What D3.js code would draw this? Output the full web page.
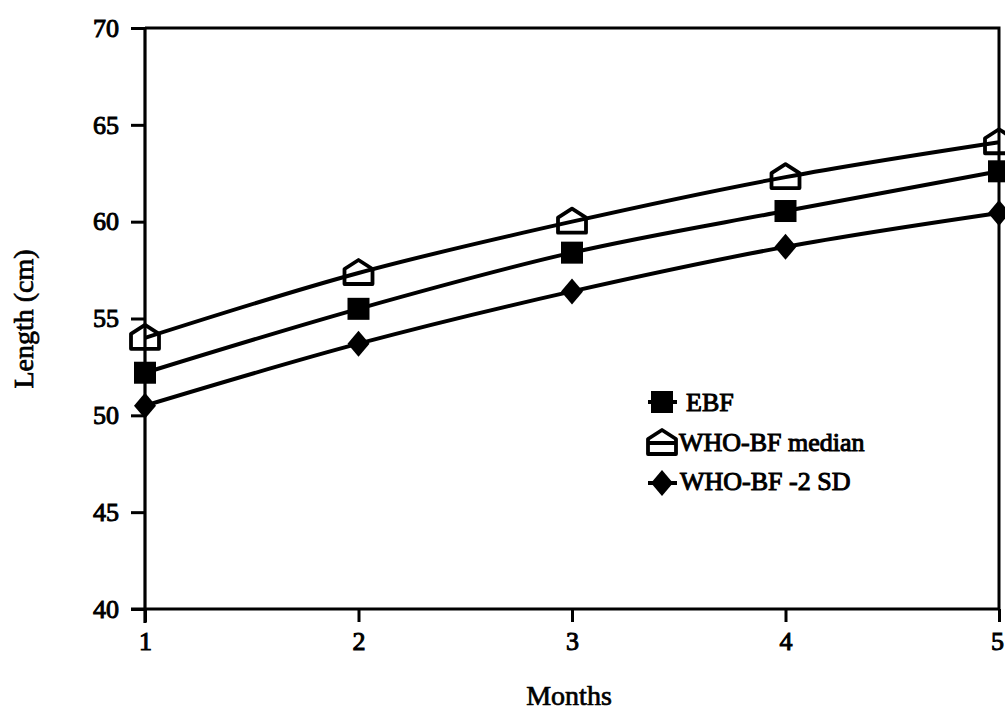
<!DOCTYPE html>
<html>
<head>
<meta charset="utf-8">
<script src="https://cdn.jsdelivr.net/npm/d3@7"></script>
<style>
  html, body { margin: 0; padding: 0; background: #fff; }
  svg { display: block; }
  text { font-family: "Liberation Serif", "Times New Roman", serif; fill: #000; }
</style>
</head>
<body>
<svg id="chart" width="1005" height="710"></svg>
<script>
// ---- data ----
const months = [1, 2, 3, 4, 5];
const ebf = [52.2, 55.5, 58.4, 60.55, 62.6];
const whoMedian = [54.0, 57.35, 60.0, 62.3, 64.1];
const whoMinus2SD = [50.5, 53.7, 56.4, 58.7, 60.45];
const yTicks = [40, 45, 50, 55, 60, 65, 70];
const xTicks = [1, 2, 3, 4, 5];
const seriesNames = ["EBF", "WHO-BF median", "WHO-BF -2 SD"];

(function () {
// ---- layout ----
const svg = d3.select("#chart");
const pLeft = 145, pRight = 999, pTop = 28, pBottom = 609;
const x = d3.scaleLinear().domain([1, 5]).range([pLeft, pRight]);
const y = d3.scaleLinear().domain([40, 70]).range([pBottom, pTop]);

const fontSize = 26;
const fmt = d3.format("d");

// frame (top & right)
svg.append("path")
  .attr("d", `M${pLeft},${pTop}H${pRight}V${pBottom}`)
  .attr("fill", "none").attr("stroke", "#000").attr("stroke-width", 3);

// y axis
const yAxis = svg.append("g").attr("transform", `translate(${pLeft},0)`)
  .call(d3.axisLeft(y).tickValues(yTicks).tickFormat(fmt).tickSize(14).tickPadding(12));
// x axis
const xAxis = svg.append("g").attr("transform", `translate(0,${pBottom})`)
  .call(d3.axisBottom(x).tickValues(xTicks).tickFormat(fmt).tickSize(13).tickPadding(10));

[yAxis, xAxis].forEach(g => {
  g.select(".domain").attr("stroke", "#000").attr("stroke-width", 3.2);
  g.selectAll(".tick line").attr("stroke", "#000").attr("stroke-width", 3);
  g.selectAll(".tick text")
    .attr("font-size", fontSize)
    .attr("fill", "#000")
    .attr("stroke", "#000").attr("stroke-width", 1);
});
yAxis.select(".domain").attr("d", `M0,${pBottom + 14}V${pTop}`);
xAxis.select(".domain").attr("d", `M${pLeft - 14},0H${pRight}`);
// keep the last x label inside the page edge
xAxis.selectAll(".tick text").filter(d => d === 5).attr("dx", -2);

// axis titles
svg.append("text")
  .attr("x", 569).attr("y", 705)
  .attr("text-anchor", "middle")
  .attr("font-size", 28)
  .attr("stroke", "#000").attr("stroke-width", 0.7)
  .text("Months");
svg.append("text")
  .attr("transform", "translate(33,319) rotate(-90)")
  .attr("text-anchor", "middle")
  .attr("font-size", 28)
  .attr("stroke", "#000").attr("stroke-width", 0.7)
  .text("Length (cm)");

// ---- series ----
const line = d3.line()
  .x((d, i) => x(months[i]))
  .y(d => y(d))
  .curve(d3.curveMonotoneX);

const allSeries = [ebf, whoMedian, whoMinus2SD];
allSeries.forEach(vals => {
  svg.append("path")
    .datum(vals)
    .attr("d", line)
    .attr("fill", "none")
    .attr("stroke", "#000")
    .attr("stroke-width", 4)
    .attr("stroke-linejoin", "round");
});

const housePath = "M0,-13 L14,-4 L14,11 L-14,11 L-14,-4 Z";
const diamondPath = "M0,-13 L11,0 L0,13 L-11,0 Z";

function drawSquare(g, cx, cy) {
  g.append("rect").attr("x", cx - 11).attr("y", cy - 11)
    .attr("width", 22).attr("height", 22).attr("fill", "#000");
}
function drawHouse(g, cx, cy) {
  g.append("path").attr("d", housePath)
    .attr("transform", `translate(${cx},${cy})`)
    .attr("fill", "none").attr("stroke", "#000")
    .attr("stroke-width", 3.8).attr("stroke-linejoin", "round");
}
function drawDiamond(g, cx, cy) {
  g.append("path").attr("d", diamondPath)
    .attr("transform", `translate(${cx},${cy})`)
    .attr("fill", "#000");
}
const markers = [drawSquare, drawHouse, drawDiamond];

const mg = svg.append("g");
allSeries.forEach((vals, si) => {
  vals.forEach((v, i) => markers[si](mg, x(months[i]), y(v)));
});

// ---- legend ----
const legend = svg.append("g");
const legendRows = [
  { cy: 402, tx: 686, by: 411 },
  { cy: 443, tx: 679, by: 451 },
  { cy: 483, tx: 680, by: 490 }
];
legendRows.forEach((r, i) => {
  legend.append("line")
    .attr("x1", 648).attr("x2", 677)
    .attr("y1", r.cy).attr("y2", r.cy)
    .attr("stroke", "#000").attr("stroke-width", 4);
  markers[i](legend, 662, r.cy);
  legend.append("text")
    .attr("x", r.tx).attr("y", r.by)
    .attr("font-size", fontSize)
    .attr("stroke", "#000").attr("stroke-width", 1)
    .text(seriesNames[i]);
});
})();
</script>
</body>
</html>
